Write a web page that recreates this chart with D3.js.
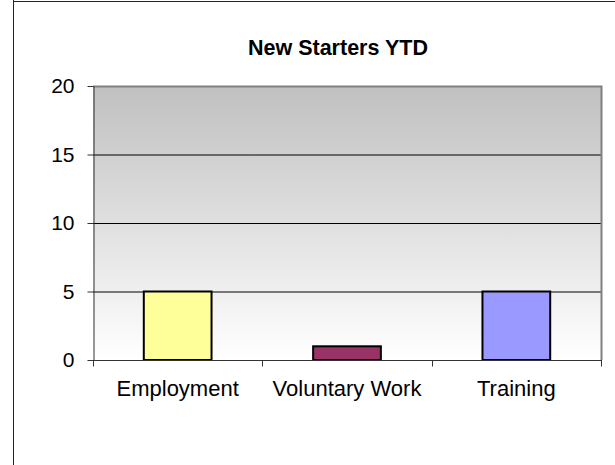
<!DOCTYPE html>
<html><head><meta charset="utf-8">
<script src="https://cdn.jsdelivr.net/npm/d3@7"></script>
<style>body{margin:0;background:#fff}svg{display:block}</style>
</head><body>
<script>
const title = "New Starters YTD";
const categories = ["Employment", "Voluntary Work", "Training"];
const values = [5, 1, 5];
const colors = ["#FFFF99", "#993366", "#9999FF"];
const yTicks = [0, 5, 10, 15, 20];

(function () {
const W = 615, H = 465;
const FONT = "Arial, 'Liberation Sans', sans-serif";
const svg = d3.select("body").append("svg").attr("width", W).attr("height", H);

// outer frame lines
svg.append("line").attr("x1", 13.5).attr("x2", 13.5).attr("y1", 0).attr("y2", H).attr("stroke", "#222").attr("stroke-width", 1);
svg.append("line").attr("x1", 13).attr("x2", W).attr("y1", 1.5).attr("y2", 1.5).attr("stroke", "#222").attr("stroke-width", 1);

const pl = 93, pr = 601, pt = 86, pb = 360;
const x = d3.scaleBand().domain(categories).range([pl, pr]).paddingInner(0.6).paddingOuter(0.3);
const y = d3.scaleLinear().domain([0, 20]).range([pb, pt]);

const defs = svg.append("defs");
const g = defs.append("linearGradient").attr("id", "bg").attr("x1", 0).attr("x2", 0).attr("y1", 0).attr("y2", 1);
g.append("stop").attr("offset", "0%").attr("stop-color", "#c0c0c0");
g.append("stop").attr("offset", "100%").attr("stop-color", "#ffffff");

svg.append("rect").attr("x", pl).attr("y", pt).attr("width", pr - pl).attr("height", pb - pt).attr("fill", "url(#bg)");

// gridlines
svg.append("g").selectAll("line").data(yTicks.filter(d => d > 0 && d < 20)).join("line")
  .attr("x1", pl).attr("x2", pr).attr("y1", d => y(d) + 0.5).attr("y2", d => y(d) + 0.5)
  .attr("stroke", "#000").attr("stroke-width", 1);

// plot border top & right (gray)
svg.append("path").attr("d", `M${pl},${pt + 0.5}H${pr + 0.5}V${pb}`).attr("fill", "none").attr("stroke", "#808080").attr("stroke-width", 2);

// bars
svg.append("g").selectAll("rect").data(values).join("rect")
  .attr("x", (d, i) => x(categories[i]))
  .attr("y", d => y(d))
  .attr("width", x.bandwidth())
  .attr("height", d => pb - y(d))
  .attr("fill", (d, i) => colors[i])
  .attr("stroke", "#000").attr("stroke-width", 2);

// y axis
const yAxis = d3.axisLeft(y).tickValues(yTicks).tickSize(6).tickPadding(13).tickSizeOuter(0);
const ya = svg.append("g").attr("transform", `translate(${pl + 0.5},0)`).call(yAxis);
ya.select(".domain").attr("stroke", "#333");
ya.selectAll(".tick line").attr("stroke", "#333");
ya.selectAll("text").attr("font-family", FONT).attr("font-size", 21).attr("fill", "#000");

// x axis
const xa = svg.append("g").attr("transform", `translate(0,${pb + 0.5})`);
xa.append("line").attr("x1", pl).attr("x2", pr + 1).attr("y1", 0).attr("y2", 0).attr("stroke", "#333");
const bounds = [pl].concat(categories.map(c => x(c) + x.bandwidth() + x.step() * 0.3));
xa.selectAll("line.tk").data(bounds).join("line").attr("class", "tk")
  .attr("x1", d => Math.round(d) + 0.5).attr("x2", d => Math.round(d) + 0.5).attr("y1", 0).attr("y2", 6).attr("stroke", "#333");
xa.selectAll("text").data(categories).join("text")
  .attr("x", d => x(d) + x.bandwidth() / 2).attr("y", 35)
  .attr("text-anchor", "middle")
  .attr("font-family", FONT).attr("font-size", 22).attr("fill", "#000")
  .text(d => d);

// title
svg.append("text").attr("x", 338).attr("y", 55).attr("text-anchor", "middle")
  .attr("font-family", FONT).attr("font-size", 21.5).attr("font-weight", "bold")
  .text(title);
})();
</script>
</body></html>
